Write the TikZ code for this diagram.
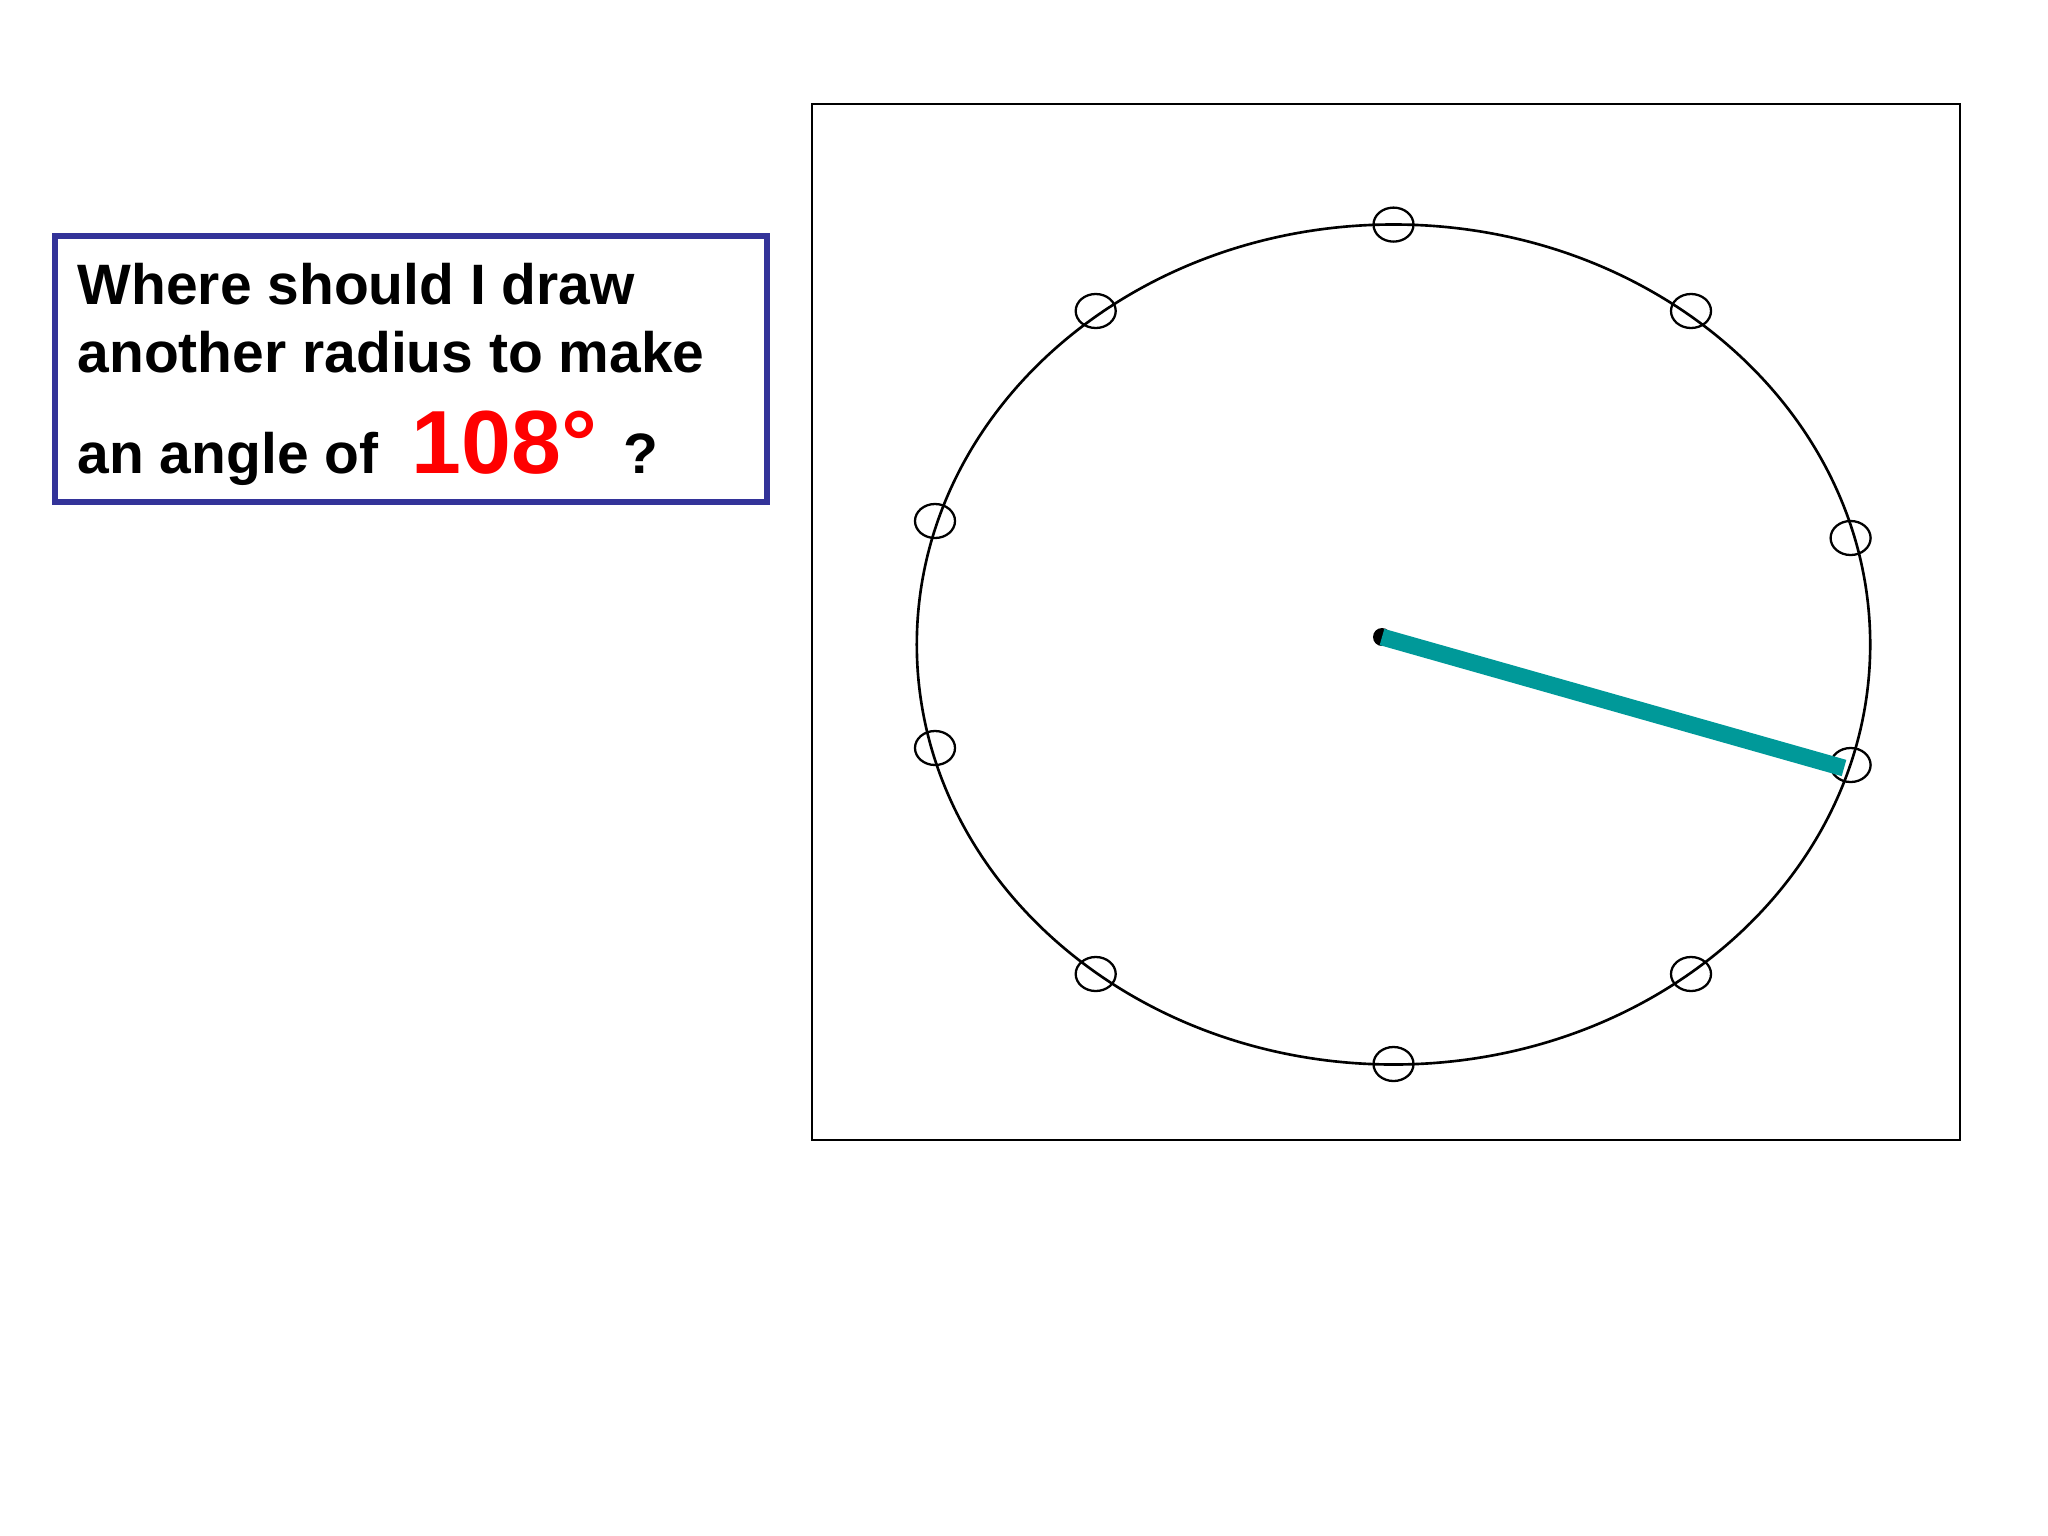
\documentclass[tikz,border=0pt]{standalone}
\usepackage{fontspec}
\setmainfont{Liberation Sans}
\usetikzlibrary{positioning,calc,shapes.geometric}
\definecolor{boxblue}{RGB}{51,51,153}
\definecolor{radteal}{RGB}{0,153,153}
\definecolor{numred}{RGB}{255,0,0}

\begin{document}
\begin{tikzpicture}[x=0.01cm,y=-0.01cm,
   question/.style={anchor=base west, inner sep=0pt, font=\fontsize{16.2}{19}\bfseries\selectfont},
   marker/.style={draw, ellipse, minimum width=0.4cm, minimum height=0.34cm, inner sep=0pt, line width=0.65pt}]
   \useasboundingbox[fill=white] (0,0) rectangle (2048,1536);

   % question box
   \draw[boxblue, line width=1.6pt] (55,236) rectangle (767,502);
   \node[question]                    (q1) at (77,304) {Where should I draw};
   \node[question]                    (q2) at (77,372) {another radius to make};
   \node[question]                    (q3) at (77,473) {an angle of};
   \node[question, numred, font=\fontsize{25.5}{30}\bfseries\selectfont]
                                      (q4) at (411,473) {108°};
   \node[question]                    (q5) at (623,473) {?};

   % frame
   \draw[line width=0.75pt] (812,104) rectangle (1960,1140);

   % circle
   \coordinate (o) at (1393.5,644.5);
   \draw[line width=0.75pt] (o) ellipse [x radius=476.7, y radius=-420];

   % markers on the circle
   \foreach \n/\px/\py in {m0/1393.5/224.6, m1/1691/311, m2/1850.6/538, m3/1850.6/765,
                           m4/1691/974, m5/1393.5/1064, m6/1095.7/974, m7/935/748,
                           m8/935/521, m9/1095.7/311}
      \node[marker] (\n) at (\px,\py) {};

   % radius
   \coordinate (c) at (1382,637);
   \coordinate (r) at (1844,768);
   \fill (c) circle (0.09cm);
   \draw[radteal, line width=4.8pt] (c) -- (r);
\end{tikzpicture}
\end{document}
